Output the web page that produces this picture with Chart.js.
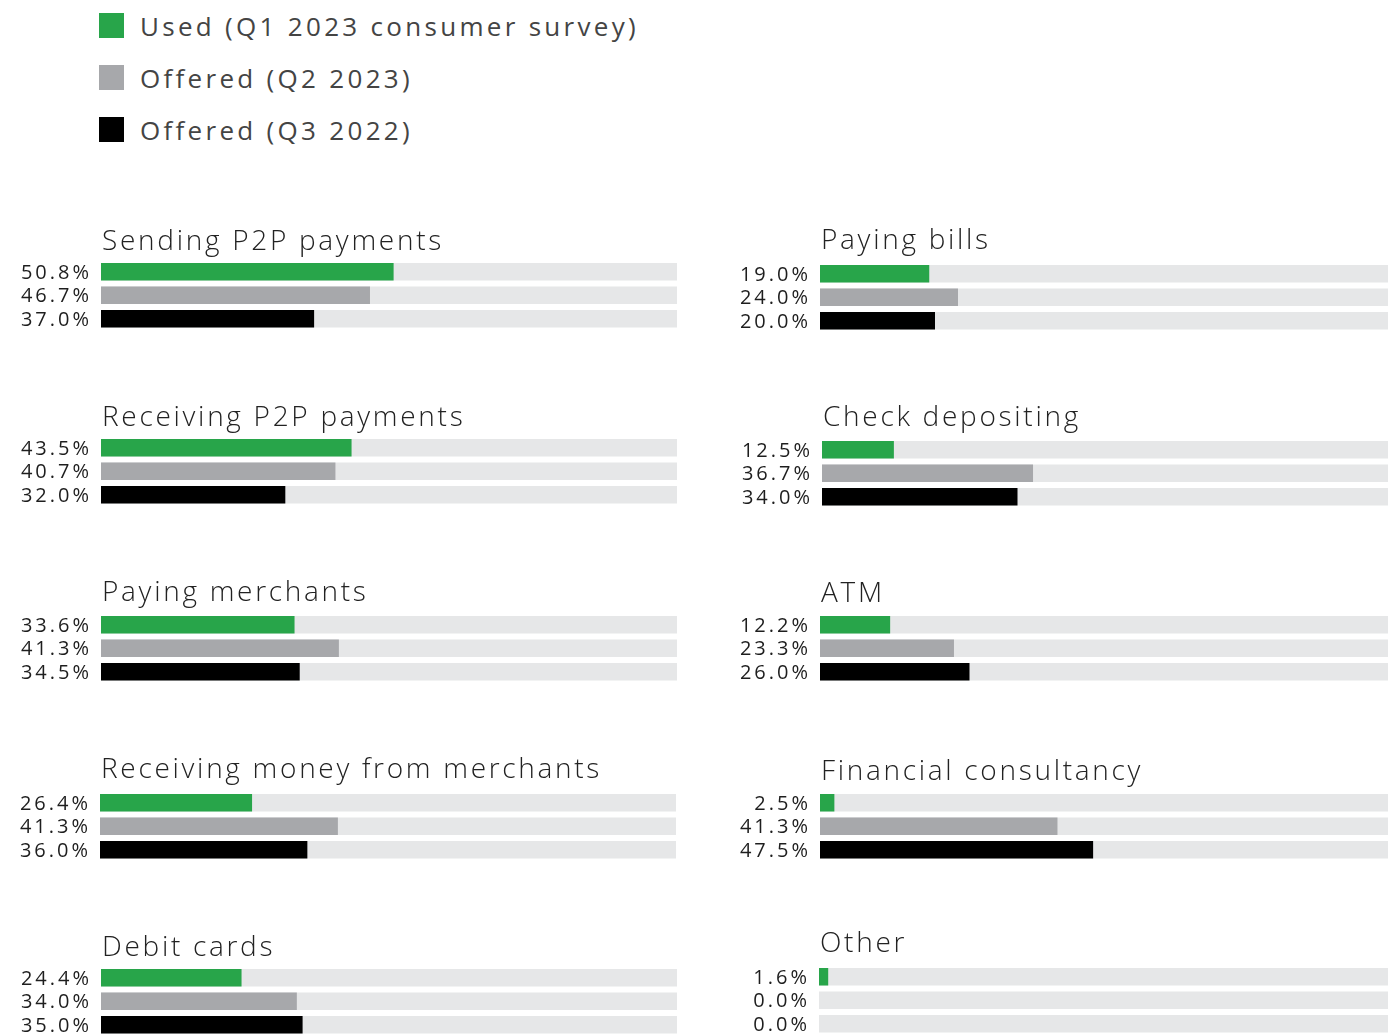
<!DOCTYPE html>
<html><head><meta charset="utf-8">
<script src="https://cdn.jsdelivr.net/npm/chart.js@4"></script>
<style>
html,body{margin:0;padding:0;width:1388px;height:1034px;overflow:hidden;background:#fff;}
canvas.panel{position:absolute;}
#legend{position:absolute;left:99px;top:13px;font-family:"Open Sans",sans-serif;font-size:26px;color:#444;letter-spacing:3.3px;}
.li{position:relative;height:25px;margin-bottom:27px;display:flex;align-items:center;}
.sw{width:25px;height:25px;margin-right:16px;flex:none;}
.lt{line-height:25px;position:relative;top:1px;white-space:nowrap;}
</style></head><body>
<div id="legend"></div>
<script>
// ---- data ----
const seriesNames = ["Used (Q1 2023 consumer survey)", "Offered (Q2 2023)", "Offered (Q3 2022)"];
const categories = ["Sending P2P payments", "Receiving P2P payments", "Paying merchants",
  "Receiving money from merchants", "Debit cards",
  "Paying bills", "Check depositing", "ATM", "Financial consultancy", "Other"];
const used      = [50.8, 43.5, 33.6, 26.4, 24.4, 19.0, 12.5, 12.2, 2.5, 1.6];
const offeredQ2 = [46.7, 40.7, 41.3, 41.3, 34.0, 24.0, 36.7, 23.3, 41.3, 0.0];
const offeredQ3 = [37.0, 32.0, 34.5, 36.0, 35.0, 20.0, 34.0, 26.0, 47.5, 0.0];
const axisMax = 100;

// ---- styling / layout ----
const seriesColors = ['#28a54a', '#a7a8ab', '#000000'];
const trackColor = '#e6e7e8';
const panelLeft   = [101, 101, 101, 100, 101, 820, 822, 820, 820, 819];
const panelBarTop = [263, 439, 616, 794, 969, 265, 441, 616, 794, 968];
const titleGap    = [13, 13, 15, 16, 13, 16, 15, 14, 14, 16];
const AXIS_W = 101, PAD_TOP = 50, PAD_BOTTOM = 12, ROW = 23.5, BAR = 17.5;

// legend
const lg = document.getElementById('legend');
seriesNames.forEach((n, i) => {
  const d = document.createElement('div'); d.className = 'li';
  const s = document.createElement('span'); s.className = 'sw'; s.style.background = seriesColors[i];
  const t = document.createElement('span'); t.className = 'lt'; t.textContent = n;
  d.appendChild(s); d.appendChild(t); lg.appendChild(d);
});

const panelTitlePlugin = {
  id: 'panelTitle',
  beforeDraw(chart) { chart.ctx.letterSpacing = '3px'; },
  afterDraw(chart, args, opts) {
    const ctx = chart.ctx, ca = chart.chartArea;
    ctx.save();
    ctx.letterSpacing = '2.7px';
    ctx.font = '300 28px "Open Sans"';
    ctx.fillStyle = '#222';
    ctx.textAlign = 'left';
    ctx.textBaseline = 'alphabetic';
    ctx.fillText(opts.text, ca.left + 1, ca.top + (ROW - BAR) / 2 - opts.gap);
    ctx.restore();
  }
};

categories.forEach((cat, i) => {
  const vals = [used[i], offeredQ2[i], offeredQ3[i]];
  const cv = document.createElement('canvas');
  cv.className = 'panel';
  const W = 690, H = PAD_TOP + 3 * ROW + PAD_BOTTOM;
  cv.width = W; cv.height = Math.ceil(H);
  cv.style.width = W + 'px'; cv.style.height = Math.ceil(H) + 'px';
  cv.style.left = (panelLeft[i] - AXIS_W) + 'px';
  cv.style.top = (panelBarTop[i] - PAD_TOP - (ROW - BAR) / 2) + 'px';
  document.body.appendChild(cv);
  const trackW = i < 5 ? 576 : 575;
  new Chart(cv, {
    type: 'bar',
    data: {
      labels: vals.map(v => v.toFixed(1) + '%'),
      datasets: [
        { data: vals, backgroundColor: seriesColors, barThickness: BAR, grouped: false, order: 0, inflateAmount: 0 },
        { data: vals.map(() => axisMax), backgroundColor: trackColor, barThickness: BAR, grouped: false, order: 1, inflateAmount: 0 }
      ]
    },
    options: {
      indexAxis: 'y', responsive: false, animation: false, events: [],
      layout: { padding: { top: PAD_TOP, right: W - AXIS_W - trackW, bottom: Math.ceil(H) - PAD_TOP - 3 * ROW, left: 0 } },
      plugins: { legend: { display: false }, tooltip: { enabled: false }, panelTitle: { text: cat, gap: titleGap[i] } },
      scales: {
        x: { min: 0, max: axisMax, display: false },
        y: {
          grid: { display: false, drawTicks: false }, border: { display: false },
          ticks: { font: { family: 'Open Sans', size: 20 }, color: '#1e1e1e', padding: 9, autoSkip: false, labelOffset: 1.5 },
          afterFit(s) { s.width = AXIS_W; s.paddingTop = 0; s.paddingBottom = 0; }
        }
      }
    },
    plugins: [panelTitlePlugin]
  });
});
</script>
</body></html>
